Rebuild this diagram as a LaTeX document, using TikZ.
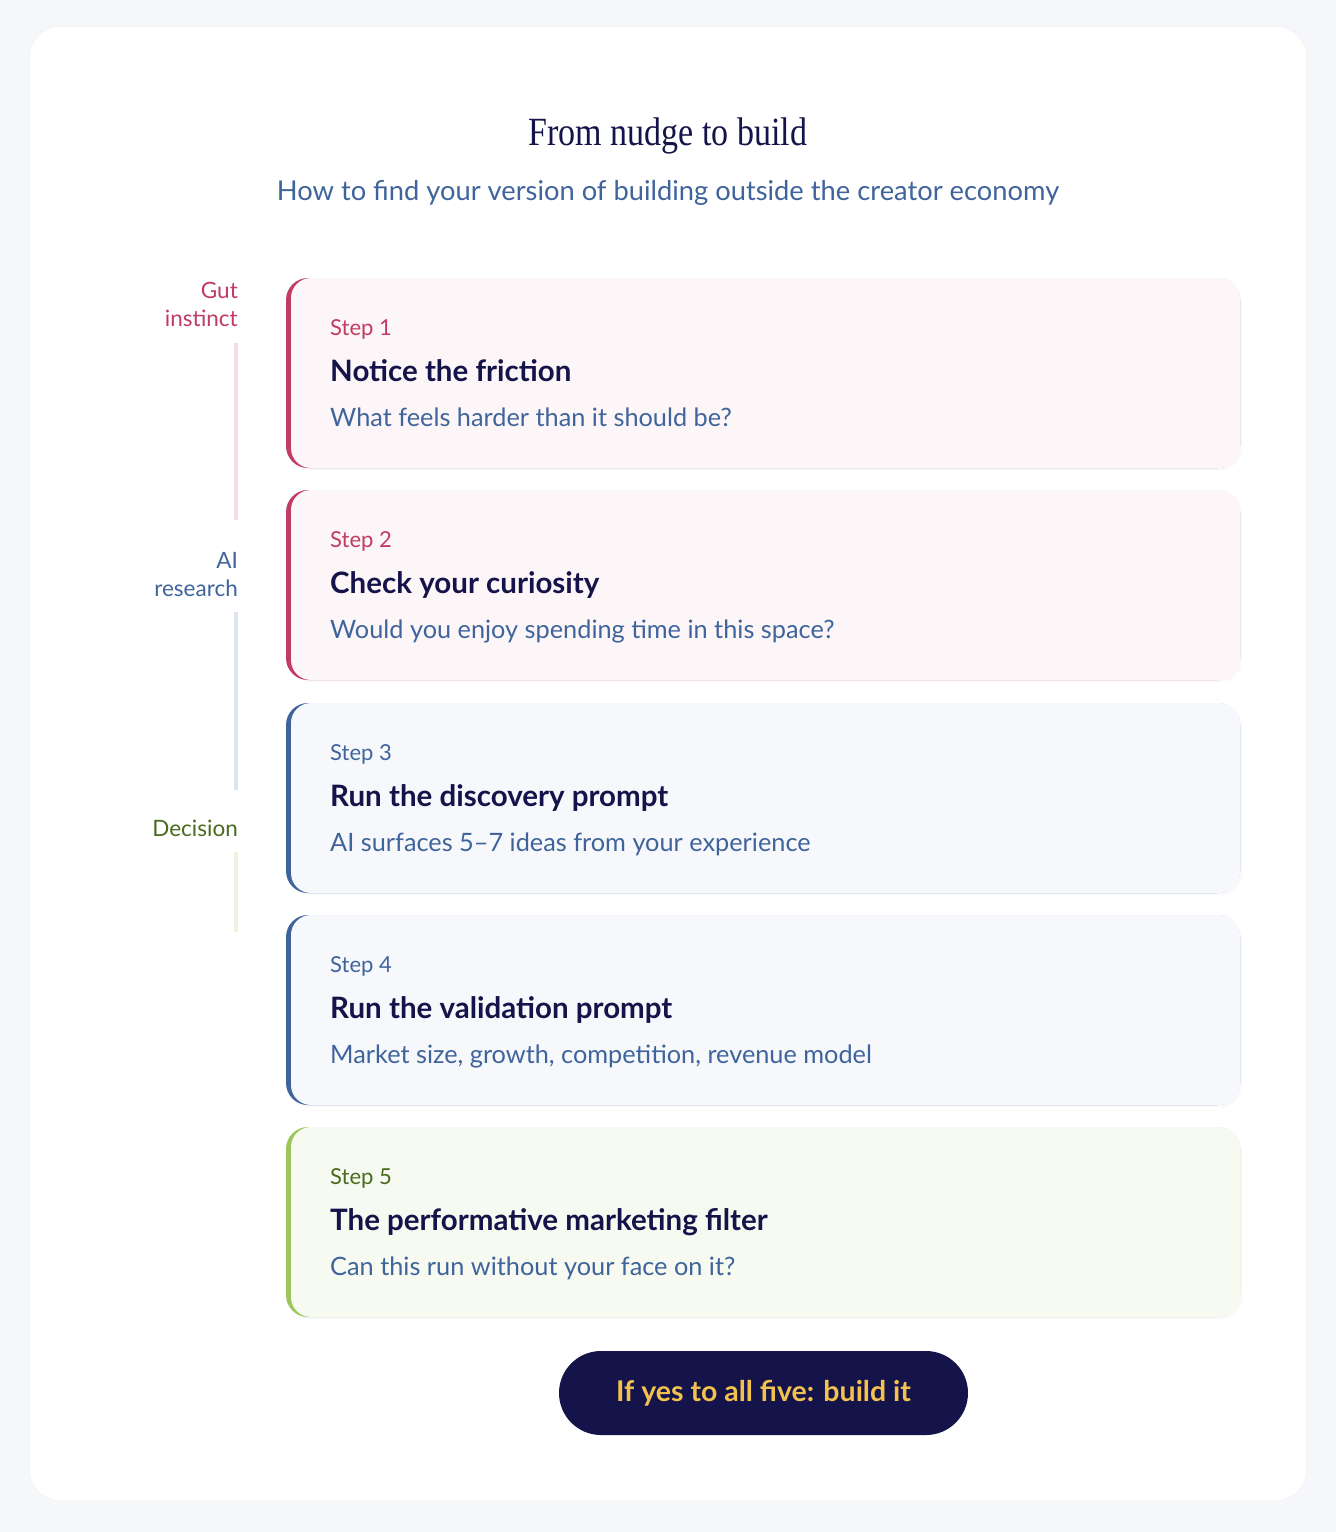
\documentclass[tikz,border=0pt]{standalone}
\usepackage{fontspec}
\setmainfont{Lato}
\newfontfamily\titlefont{Liberation Serif}
\definecolor{pagebg}{HTML}{F6F7FA}
\definecolor{navy}{HTML}{14144A}
\definecolor{pinkc}{HTML}{C13B63}
\definecolor{bluec}{HTML}{3F649C}
\definecolor{greenc}{HTML}{4A6B1E}
\definecolor{greenacc}{HTML}{9BC65A}
\definecolor{pinkbg}{HTML}{FDF6F8}
\definecolor{bluebg}{HTML}{F6F8FB}
\definecolor{greenbg}{HTML}{F6FAF0}
\definecolor{pinkline}{HTML}{F4DCE3}
\definecolor{blueline}{HTML}{DCE4EF}
\definecolor{greenline}{HTML}{EEF2E0}
\definecolor{gold}{HTML}{F2C14E}
\tikzset{
  every node/.style={inner sep=0pt},
  steplbl/.style={anchor=base west,font=\fontsize{22}{26}\selectfont},
  headlbl/.style={anchor=base west,text=navy,font=\fontsize{29.5}{34}\selectfont\bfseries},
  desclbl/.style={anchor=base west,text=bluec,font=\fontsize{25.3}{30}\selectfont},
  sidelbl/.style={anchor=base east,align=right,font=\fontsize{22.5}{28}\selectfont},
}
\newcommand{\stepcard}[7]{%
  \fill[black!2.5,rounded corners=22pt] (287,#1+2) rectangle (1242,#1+192);
  \fill[#2,rounded corners=22pt] (286,#1) rectangle (1240,#1+190);
  \fill[#3,rounded corners=20pt] (291,#1) rectangle (1240,#1+190);
  \node[steplbl,text=#4] (s#5) at (330,#1+57) {Step #5};
  \node[headlbl] (h#5) at (330,#1+103) {#6};
  \node[desclbl] (d#5) at (330,#1+148) {#7};
}
\begin{document}
\begin{tikzpicture}[x=1pt,y=-1pt]
\fill[pagebg] (0,0) rectangle (1336,1532);
\useasboundingbox (0,0) rectangle (1336,1532);
\fill[black!4,rounded corners=30pt] (29,26) rectangle (1307,1501);
\fill[white,rounded corners=30pt] (30,27) rectangle (1306,1500);
\node[anchor=base,text=navy,font=\titlefont\fontsize{40}{46}\selectfont] (title) at (668,145) {\addfontfeature{FakeStretch=0.85}From nudge to build};
\node[anchor=base,text=bluec,font=\fontsize{27.3}{32}\selectfont] (sub) at (668,200) {How to find your version of building outside the creator economy};

\node[sidelbl,text=pinkc] (gut) at (238,326) {Gut\\instinct};
\draw[pinkline,line width=3.5pt] (236,343) -- (236,520);
\node[sidelbl,text=bluec] (ai) at (238,596) {AI\\research};
\draw[blueline,line width=3.5pt] (236,612) -- (236,790);
\node[sidelbl,text=greenc] (dec) at (238,836) {Decision};
\draw[greenline,line width=3.5pt] (236,852) -- (236,932);

\stepcard{278}{pinkc}{pinkbg}{pinkc}{1}{Notice the friction}{What feels harder than it should be?}
\stepcard{490}{pinkc}{pinkbg}{pinkc}{2}{Check your curiosity}{Would you enjoy spending time in this space?}
\stepcard{703}{bluec}{bluebg}{bluec}{3}{Run the discovery prompt}{AI surfaces 5–7 ideas from your experience}
\stepcard{915}{bluec}{bluebg}{bluec}{4}{Run the validation prompt}{Market size, growth, competition, revenue model}
\stepcard{1127}{greenacc}{greenbg}{greenc}{5}{The performative marketing filter}{Can this run without your face on it?}

\fill[navy,rounded corners=42pt] (559,1351) rectangle (968,1435);
\node[text=gold,font=\fontsize{28.5}{32}\selectfont\bfseries] (btn) at (763.5,1393) {If yes to all five: build it};
\end{tikzpicture}
\end{document}
